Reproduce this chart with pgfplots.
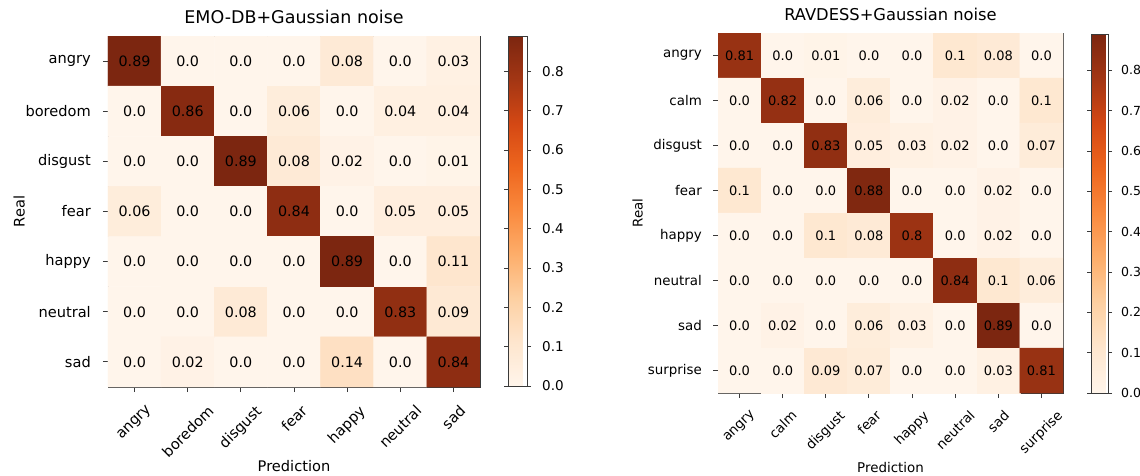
\documentclass[border=0pt]{standalone}
\usepackage{pgfplots}
\pgfplotsset{compat=1.18}
\usepackage{pgfplotstable}
\usepackage{fontspec}
\setmainfont{DejaVu Sans}
\newcommand{\rl}[1]{\rotatebox{45}{#1}}
\definecolor{axgray}{HTML}{3A3A3A}

\pgfplotstableread{
x y c
0 0 0.89
1 0 0.0
2 0 0.0
3 0 0.0
4 0 0.08
5 0 0.0
6 0 0.03
0 1 0.0
1 1 0.86
2 1 0.0
3 1 0.06
4 1 0.0
5 1 0.04
6 1 0.04
0 2 0.0
1 2 0.0
2 2 0.89
3 2 0.08
4 2 0.02
5 2 0.0
6 2 0.01
0 3 0.06
1 3 0.0
2 3 0.0
3 3 0.84
4 3 0.0
5 3 0.05
6 3 0.05
0 4 0.0
1 4 0.0
2 4 0.0
3 4 0.0
4 4 0.89
5 4 0.0
6 4 0.11
0 5 0.0
1 5 0.0
2 5 0.08
3 5 0.0
4 5 0.0
5 5 0.83
6 5 0.09
0 6 0.0
1 6 0.02
2 6 0.0
3 6 0.0
4 6 0.14
5 6 0.0
6 6 0.84
}\emodb

\pgfplotstableread{
x y c
0 0 0.81
1 0 0.0
2 0 0.01
3 0 0.0
4 0 0.0
5 0 0.1
6 0 0.08
7 0 0.0
0 1 0.0
1 1 0.82
2 1 0.0
3 1 0.06
4 1 0.0
5 1 0.02
6 1 0.0
7 1 0.1
0 2 0.0
1 2 0.0
2 2 0.83
3 2 0.05
4 2 0.03
5 2 0.02
6 2 0.0
7 2 0.07
0 3 0.1
1 3 0.0
2 3 0.0
3 3 0.88
4 3 0.0
5 3 0.0
6 3 0.02
7 3 0.0
0 4 0.0
1 4 0.0
2 4 0.1
3 4 0.08
4 4 0.8
5 4 0.0
6 4 0.02
7 4 0.0
0 5 0.0
1 5 0.0
2 5 0.0
3 5 0.0
4 5 0.0
5 5 0.84
6 5 0.1
7 5 0.06
0 6 0.0
1 6 0.02
2 6 0.0
3 6 0.06
4 6 0.03
5 6 0.0
6 6 0.89
7 6 0.0
0 7 0.0
1 7 0.0
2 7 0.09
3 7 0.07
4 7 0.0
5 7 0.0
6 7 0.03
7 7 0.81
}\ravdess

\pgfplotsset{
  colormap={oranges}{rgb255=(255,245,235) rgb255=(254,230,206) rgb255=(253,208,162) rgb255=(253,174,107) rgb255=(250,138,62) rgb255=(238,102,30) rgb255=(212,72,20) rgb255=(163,54,20) rgb255=(124,38,16)},
  cm/.style={
    scale only axis,
    enlargelimits=false,
    y dir=reverse,
    axis line style={axgray, line width=0.9pt},
    tick style={axgray, line width=0.9pt},
    tick align=outside,
    major tick length=5pt,
    xtick pos=bottom, ytick pos=left,
    colormap name=oranges,
    point meta min=0, point meta max=0.89,
    colorbar,
  },
}

\begin{document}
\begin{tikzpicture}
\path[use as bounding box] (0,0) rectangle (1140pt,475pt);

% ---------- EMO-DB ----------
\begin{axis}[cm,
  at={(108pt,88pt)}, anchor=south west,
  width=372pt, height=351pt,
  xmin=-0.5, xmax=6.5, ymin=-0.5, ymax=6.5,
  xtick={0,...,6}, ytick={0,...,6},
  xticklabels={\rl{angry},\rl{boredom},\rl{disgust},\rl{fear},\rl{happy},\rl{neutral},\rl{sad}},
  yticklabels={angry,boredom,disgust,fear,happy,neutral,sad},
  x tick label style={anchor=north, inner sep=0pt, yshift=-12pt, font=\fontsize{14.6}{17}\selectfont},
  y tick label style={anchor=east, inner sep=0pt, xshift=-12pt, font=\fontsize{14.6}{17}\selectfont},
  title={EMO-DB+Gaussian noise},
  title style={at={(axis description cs:0.5,1)}, anchor=base, inner sep=0pt, yshift=7pt, font=\fontsize{17.5}{20}\selectfont},
  xlabel={Prediction},
  xlabel style={at={(axis description cs:0.5,0)}, anchor=base, inner sep=0pt, yshift=-84pt, font=\fontsize{14.6}{17}\selectfont},
  ylabel={Real},
  ylabel style={at={(axis description cs:0,0.5)}, anchor=south, inner sep=0pt, yshift=83pt, font=\fontsize{14.6}{17}\selectfont},
  colorbar style={
    scale only axis,
    at={(parent axis.north east)}, anchor=north west, xshift=19.5pt, yshift=0pt,
    width=19pt, height=350pt,
    ytick={0,0.1,...,0.8},
    axis line style={axgray, line width=0.9pt},
    tick style={axgray, line width=0.9pt},
    tick align=outside, major tick length=4pt,
    yticklabel style={inner sep=0pt, xshift=11pt, font=\fontsize{13.5}{15}\selectfont,
      /pgf/number format/.cd, fixed, fixed zerofill, precision=1, assume math mode=true},
  },
]
\addplot[matrix plot*, mesh/cols=7, point meta=explicit] table[x=x, y=y, meta=c] {\emodb};
\addplot[draw=none, mark=none, nodes near coords, point meta=explicit symbolic,
  nodes near coords style={anchor=center, text=black, font=\fontsize{14.3}{16}\selectfont}]
  table[x=x, y=y, meta=c] {\emodb};
\end{axis}

% ---------- RAVDESS ----------
\begin{axis}[cm,
  at={(718pt,82pt)}, anchor=south west,
  width=345pt, height=360pt,
  xmin=-0.5, xmax=7.5, ymin=-0.5, ymax=7.5,
  xtick={0,...,7}, ytick={0,...,7},
  xticklabels={\rl{angry},\rl{calm},\rl{disgust},\rl{fear},\rl{happy},\rl{neutral},\rl{sad},\rl{surprise}},
  yticklabels={angry,calm,disgust,fear,happy,neutral,sad,surprise},
  x tick label style={anchor=north, inner sep=0pt, yshift=-11pt, font=\fontsize{13.4}{15}\selectfont},
  y tick label style={anchor=east, inner sep=0pt, xshift=-11pt, font=\fontsize{13.4}{15}\selectfont},
  title={RAVDESS+Gaussian noise},
  title style={at={(axis description cs:0.5,1)}, anchor=base, inner sep=0pt, yshift=7pt, font=\fontsize{16.3}{19}\selectfont},
  xlabel={Prediction},
  xlabel style={at={(axis description cs:0.5,0)}, anchor=base, inner sep=0pt, yshift=-79pt, font=\fontsize{13.4}{15}\selectfont},
  ylabel={Real},
  ylabel style={at={(axis description cs:0,0.5)}, anchor=south, inner sep=0pt, yshift=75pt, font=\fontsize{13.4}{15}\selectfont},
  colorbar style={
    scale only axis,
    at={(parent axis.north east)}, anchor=north west, xshift=19.5pt, yshift=-1pt,
    width=17pt, height=359pt,
    ytick={0,0.1,...,0.8},
    axis line style={axgray, line width=0.9pt},
    tick style={axgray, line width=0.9pt},
    tick align=outside, major tick length=4pt,
    yticklabel style={inner sep=0pt, xshift=9pt, font=\fontsize{12.5}{15}\selectfont,
      /pgf/number format/.cd, fixed, fixed zerofill, precision=1, assume math mode=true},
  },
]
\addplot[matrix plot*, mesh/cols=8, point meta=explicit] table[x=x, y=y, meta=c] {\ravdess};
\addplot[draw=none, mark=none, nodes near coords, point meta=explicit symbolic,
  nodes near coords style={anchor=center, text=black, font=\fontsize{13}{15}\selectfont}]
  table[x=x, y=y, meta=c] {\ravdess};
\end{axis}
\end{tikzpicture}
\end{document}
